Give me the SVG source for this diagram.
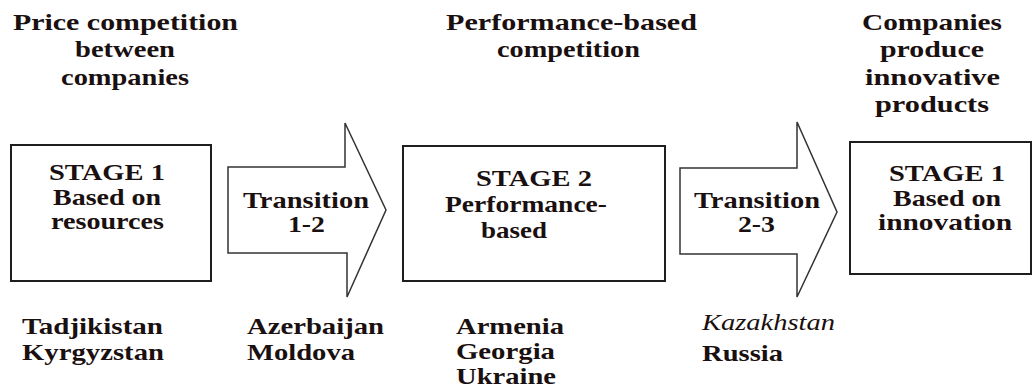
<svg xmlns="http://www.w3.org/2000/svg" width="1033" height="387" viewBox="0 0 1033 387">
<style>
text{font-family:'Liberation Serif','Times New Roman',serif;font-size:23px;font-weight:700;fill:#1a1010}
.it{font-style:italic;font-weight:400}
.box{fill:#fff;stroke:#1e1e1e;stroke-width:2}
.arr{fill:#fff;stroke:#333;stroke-width:1.5;stroke-linejoin:miter}
</style>
<rect width="1033" height="387" fill="#fff"/>
<g id="headings">
<text x="13" y="30" textLength="225" lengthAdjust="spacingAndGlyphs">Price competition</text>
<text x="75" y="57" textLength="100" lengthAdjust="spacingAndGlyphs">between</text>
<text x="61" y="85" textLength="128" lengthAdjust="spacingAndGlyphs">companies</text>
<text x="446" y="30" textLength="251" lengthAdjust="spacingAndGlyphs">Performance-based</text>
<text x="497" y="57" textLength="143" lengthAdjust="spacingAndGlyphs">competition</text>
<text x="862" y="30" textLength="140" lengthAdjust="spacingAndGlyphs">Companies</text>
<text x="880" y="57" textLength="104" lengthAdjust="spacingAndGlyphs">produce</text>
<text x="865" y="85" textLength="135" lengthAdjust="spacingAndGlyphs">innovative</text>
<text x="875" y="112" textLength="114" lengthAdjust="spacingAndGlyphs">products</text>
</g>
<g id="connectors">
<g id="transition12">
<polygon class="arr" points="228,167 345,167 345,123 386,210 347,297 347,253 228,253"/>
<text x="243" y="208" textLength="126" lengthAdjust="spacingAndGlyphs">Transition</text>
<text x="288" y="232" textLength="37" lengthAdjust="spacingAndGlyphs">1-2</text>
</g>
<g id="transition23">
<polygon class="arr" points="680,168 797,168 797,122 837,212 797,297 797,254 680,254"/>
<text x="694" y="208" textLength="126" lengthAdjust="spacingAndGlyphs">Transition</text>
<text x="738" y="232" textLength="37" lengthAdjust="spacingAndGlyphs">2-3</text>
</g>
</g>
<g id="stage1">
<rect class="box" x="11" y="145" width="200" height="136"/>
<text x="49" y="180" textLength="116" lengthAdjust="spacingAndGlyphs">STAGE 1</text>
<text x="53" y="205" textLength="108" lengthAdjust="spacingAndGlyphs">Based on</text>
<text x="51" y="229" textLength="113" lengthAdjust="spacingAndGlyphs">resources</text>
</g>
<g id="stage2">
<rect class="box" x="403" y="146" width="262" height="135"/>
<text x="476" y="186" textLength="116" lengthAdjust="spacingAndGlyphs">STAGE 2</text>
<text x="445" y="212" textLength="162" lengthAdjust="spacingAndGlyphs">Performance-</text>
<text x="481" y="238" textLength="66" lengthAdjust="spacingAndGlyphs">based</text>
</g>
<g id="stage3">
<rect class="box" x="850" y="142" width="181" height="132"/>
<text x="889" y="181" textLength="116" lengthAdjust="spacingAndGlyphs">STAGE 1</text>
<text x="893" y="206" textLength="108" lengthAdjust="spacingAndGlyphs">Based on</text>
<text x="878" y="230" textLength="134" lengthAdjust="spacingAndGlyphs">innovation</text>
</g>
<g id="countries">
<text x="22" y="334" textLength="141" lengthAdjust="spacingAndGlyphs">Tadjikistan</text>
<text x="22" y="360" textLength="142" lengthAdjust="spacingAndGlyphs">Kyrgyzstan</text>
<text x="247" y="334" textLength="137" lengthAdjust="spacingAndGlyphs">Azerbaijan</text>
<text x="247" y="360" textLength="108" lengthAdjust="spacingAndGlyphs">Moldova</text>
<text x="456" y="334" textLength="108" lengthAdjust="spacingAndGlyphs">Armenia</text>
<text x="456" y="359" textLength="99" lengthAdjust="spacingAndGlyphs">Georgia</text>
<text x="456" y="384" textLength="100" lengthAdjust="spacingAndGlyphs">Ukraine</text>
<text class="it" x="702" y="330" textLength="133" lengthAdjust="spacingAndGlyphs">Kazakhstan</text>
<text x="702" y="361" textLength="81" lengthAdjust="spacingAndGlyphs">Russia</text>
</g>
</svg>
